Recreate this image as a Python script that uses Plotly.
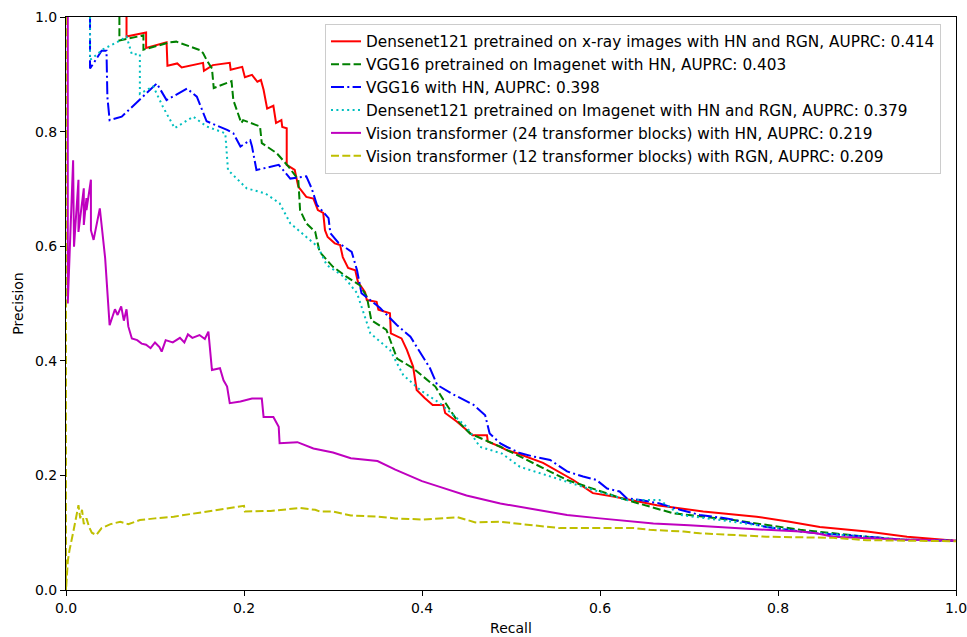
import plotly.graph_objects as go

# ---- Data ----
red_recall = [0.068, 0.068, 0.090, 0.090, 0.113, 0.114, 0.125, 0.130, 0.154, 0.155, 0.165, 0.184, 0.185,
              0.198, 0.201, 0.209, 0.215, 0.219, 0.222, 0.226, 0.233, 0.236, 0.242, 0.243, 0.248, 0.248,
              0.257, 0.261, 0.270, 0.278, 0.283, 0.289, 0.291, 0.294, 0.302, 0.308, 0.311, 0.317, 0.325,
              0.328, 0.336, 0.338, 0.349, 0.351, 0.364, 0.365, 0.377, 0.383, 0.390, 0.394, 0.403, 0.412,
              0.424, 0.426, 0.439, 0.450, 0.457, 0.473, 0.474, 0.488, 0.495, 0.506, 0.536, 0.570, 0.592,
              0.615, 0.664, 0.716, 0.776, 0.813, 0.847, 0.900, 0.945, 1.0]
red_precision = [1.0, 0.966, 0.973, 0.946, 0.956, 0.915, 0.919, 0.912, 0.920, 0.906, 0.916, 0.920, 0.908,
                 0.913, 0.895, 0.899, 0.887, 0.890, 0.873, 0.840, 0.845, 0.815, 0.820, 0.808, 0.806, 0.742,
                 0.733, 0.704, 0.686, 0.683, 0.663, 0.658, 0.628, 0.616, 0.605, 0.602, 0.581, 0.562, 0.558,
                 0.538, 0.520, 0.506, 0.503, 0.489, 0.483, 0.448, 0.439, 0.419, 0.390, 0.349, 0.335, 0.323,
                 0.323, 0.309, 0.294, 0.279, 0.270, 0.270, 0.259, 0.250, 0.244, 0.239, 0.222, 0.192, 0.169,
                 0.163, 0.148, 0.137, 0.128, 0.119, 0.110, 0.102, 0.093, 0.086]

green_recall = [0.060, 0.060, 0.087, 0.087, 0.117, 0.124, 0.151, 0.154, 0.158, 0.164, 0.166, 0.186, 0.188,
                0.197, 0.199, 0.218, 0.220, 0.237, 0.250, 0.261, 0.263, 0.270, 0.280, 0.285, 0.300, 0.315,
                0.330, 0.338, 0.343, 0.360, 0.372, 0.390, 0.415, 0.424, 0.439, 0.454, 0.488, 0.563, 0.630,
                0.682, 0.750, 0.825, 0.900, 0.937, 1.0]
green_precision = [1.0, 0.959, 0.968, 0.943, 0.956, 0.957, 0.942, 0.937, 0.925, 0.910, 0.876, 0.888, 0.855,
                   0.815, 0.820, 0.809, 0.780, 0.762, 0.739, 0.716, 0.663, 0.640, 0.625, 0.590, 0.564, 0.547,
                   0.532, 0.512, 0.471, 0.454, 0.404, 0.387, 0.355, 0.332, 0.297, 0.273, 0.250, 0.192, 0.157,
                   0.134, 0.122, 0.105, 0.093, 0.088, 0.086]

blue_recall = [0.027, 0.027, 0.040, 0.0455, 0.0465, 0.049, 0.0626, 0.102, 0.113, 0.136, 0.147, 0.158, 0.181,
               0.188, 0.196, 0.207, 0.209, 0.214, 0.239, 0.252, 0.270, 0.276, 0.282, 0.295, 0.297, 0.306,
               0.321, 0.327, 0.332, 0.342, 0.353, 0.372, 0.387, 0.409, 0.417, 0.433, 0.458, 0.471, 0.476,
               0.488, 0.495, 0.510, 0.525, 0.544, 0.555, 0.563, 0.581, 0.596, 0.608, 0.622, 0.630, 0.645,
               0.667, 0.690, 0.712, 0.742, 0.769, 0.787, 0.825, 0.843, 0.900, 0.937, 1.0]
blue_precision = [1.0, 0.910, 0.941, 0.941, 0.860, 0.820, 0.826, 0.884, 0.855, 0.875, 0.861, 0.818, 0.803,
                  0.797, 0.774, 0.785, 0.774, 0.733, 0.742, 0.718, 0.722, 0.701, 0.672, 0.649, 0.623, 0.606,
                  0.590, 0.558, 0.518, 0.506, 0.492, 0.462, 0.442, 0.387, 0.358, 0.343, 0.323, 0.305, 0.273,
                  0.256, 0.250, 0.239, 0.233, 0.227, 0.215, 0.207, 0.198, 0.192, 0.177, 0.172, 0.160, 0.157,
                  0.151, 0.140, 0.131, 0.125, 0.116, 0.110, 0.102, 0.099, 0.093, 0.088, 0.086]

cyan_recall = [0.027, 0.027, 0.042, 0.061, 0.068, 0.074, 0.083, 0.083, 0.098, 0.109, 0.122, 0.143, 0.158,
               0.179, 0.182, 0.203, 0.224, 0.240, 0.252, 0.270, 0.283, 0.293, 0.312, 0.327, 0.342, 0.364,
               0.379, 0.398, 0.420, 0.439, 0.450, 0.465, 0.490, 0.510, 0.544, 0.581, 0.630, 0.667, 0.690,
               0.750, 0.825, 0.900, 0.937, 1.0]
cyan_precision = [1.0, 0.925, 0.944, 0.959, 0.966, 0.935, 0.935, 0.866, 0.879, 0.843, 0.806, 0.826, 0.809,
                  0.797, 0.733, 0.701, 0.692, 0.675, 0.640, 0.617, 0.599, 0.567, 0.547, 0.518, 0.448, 0.419,
                  0.375, 0.349, 0.326, 0.300, 0.285, 0.250, 0.238, 0.215, 0.198, 0.180, 0.157, 0.157, 0.131,
                  0.119, 0.102, 0.093, 0.088, 0.086]

magenta_recall = [0.002, 0.002, 0.008, 0.009, 0.014, 0.014, 0.020, 0.020, 0.023, 0.023, 0.028, 0.028, 0.031,
                  0.038, 0.040, 0.044, 0.046, 0.049, 0.055, 0.058, 0.062, 0.065, 0.068, 0.070, 0.074, 0.080,
                  0.085, 0.090, 0.095, 0.100, 0.105, 0.1075, 0.112, 0.120, 0.128, 0.133, 0.137, 0.142, 0.150,
                  0.156, 0.160, 0.164, 0.173, 0.177, 0.181, 0.184, 0.196, 0.209, 0.220, 0.222, 0.233,
                  0.239, 0.240, 0.260, 0.278, 0.300, 0.320, 0.350, 0.370, 0.400, 0.420, 0.450, 0.488, 0.530,
                  0.563, 0.600, 0.660, 0.700, 0.765, 0.787, 0.825, 0.843, 0.862, 0.900, 0.937, 1.0]
magenta_precision = [1.0, 0.500, 0.750, 0.599, 0.716, 0.625, 0.701, 0.637, 0.684, 0.663, 0.716, 0.628, 0.611,
                     0.666, 0.637, 0.579, 0.532, 0.462, 0.490, 0.480, 0.495, 0.470, 0.490, 0.460, 0.439, 0.436,
                     0.430, 0.428, 0.422, 0.432, 0.424, 0.416, 0.436, 0.432, 0.440, 0.432, 0.446, 0.440, 0.445,
                     0.438, 0.451, 0.384, 0.387, 0.366, 0.355, 0.326, 0.329, 0.334, 0.334, 0.302, 0.302,
                     0.285, 0.256, 0.258, 0.247, 0.240, 0.230, 0.225, 0.210, 0.190, 0.180, 0.165, 0.151, 0.140,
                     0.131, 0.125, 0.116, 0.113, 0.108, 0.105, 0.102, 0.099, 0.093, 0.090, 0.088, 0.086]

yellow_recall = [0.0, 0.0, 0.002, 0.004, 0.008, 0.012, 0.014, 0.016, 0.018, 0.020, 0.023, 0.026, 0.029, 0.034,
                 0.040, 0.050, 0.061, 0.070, 0.083, 0.100, 0.121, 0.150, 0.188, 0.200, 0.201, 0.230, 0.263,
                 0.280, 0.285, 0.300, 0.320, 0.350, 0.370, 0.400, 0.440, 0.460, 0.488, 0.555, 0.600, 0.638,
                 0.656, 0.694, 0.712, 0.750, 0.787, 0.825, 0.862, 0.900, 1.0]
yellow_precision = [1.0, 0.0, 0.050, 0.070, 0.100, 0.130, 0.148, 0.125, 0.140, 0.115, 0.125, 0.110, 0.100, 0.096,
                    0.108, 0.115, 0.119, 0.115, 0.122, 0.125, 0.128, 0.135, 0.145, 0.147, 0.137, 0.138, 0.143,
                    0.140, 0.137, 0.137, 0.130, 0.128, 0.125, 0.123, 0.127, 0.118, 0.119, 0.108, 0.108, 0.108,
                    0.105, 0.102, 0.099, 0.096, 0.093, 0.092, 0.091, 0.087, 0.085]

labels = [
    "Densenet121 pretrained on x-ray images with HN and RGN, AUPRC: 0.414",
    "VGG16 pretrained on Imagenet with HN, AUPRC: 0.403",
    "VGG16 with HN, AUPRC: 0.398",
    "Densenet121 pretrained on Imagenet with HN and RGN, AUPRC: 0.379",
    "Vision transformer (24 transformer blocks) with HN, AUPRC: 0.219",
    "Vision transformer (12 transformer blocks) with RGN, AUPRC: 0.209",
]

x_ticks = [0.0, 0.2, 0.4, 0.6, 0.8, 1.0]
y_ticks = [0.0, 0.2, 0.4, 0.6, 0.8, 1.0]

series = [
    (red_recall, red_precision, "#ff0000", "solid"),
    (green_recall, green_precision, "#008000", "8px,3.3px"),
    (blue_recall, blue_precision, "#0000ff", "13px,3.3px,2px,3.3px"),
    (cyan_recall, cyan_precision, "#00bfbf", "2px,3.4px"),
    (magenta_recall, magenta_precision, "#bf00bf", "solid"),
    (yellow_recall, yellow_precision, "#bfbf00", "8px,3.3px"),
]

fig = go.Figure()
for (xs, ys, color, dash), name in zip(series, labels):
    fig.add_trace(go.Scatter(
        x=xs, y=ys, mode="lines", name=name,
        line=dict(color=color, width=2, dash=dash),
    ))

font_family = "DejaVu Sans"
axis_common = dict(
    showgrid=False, zeroline=False, automargin=False,
    showline=True, linecolor="black", linewidth=1, mirror=True,
    ticks="outside", ticklen=5, tickwidth=1, tickcolor="black",
    tickfont=dict(family=font_family, size=14, color="black"),
    tickformat=".1f", ticklabeloverflow="allow",
)

fig.update_layout(
    width=967, height=637,
    margin=dict(l=66, r=11, t=17, b=47),
    paper_bgcolor="white", plot_bgcolor="white",
    font=dict(family=font_family, size=14, color="black"),
    xaxis=dict(range=[0, 1], tickvals=x_ticks, title=dict(text="Recall", standoff=8,
               font=dict(family=font_family, size=14)), **axis_common),
    yaxis=dict(range=[0, 1], tickvals=y_ticks, title=dict(text="Precision", standoff=8,
               font=dict(family=font_family, size=14)), **axis_common),
    legend=dict(
        x=0.291, y=0.988, xanchor="left", yanchor="top",
        bgcolor="rgba(255,255,255,0.8)", bordercolor="#cccccc", borderwidth=1,
        font=dict(family=font_family, size=15.3, color="black"),
        itemwidth=30,
    ),
    showlegend=True,
)

fig.write_html(
    "out.html",
    config={"displayModeBar": False},
    post_script="document.body.style.margin='0';document.body.style.overflow='hidden';",
)
